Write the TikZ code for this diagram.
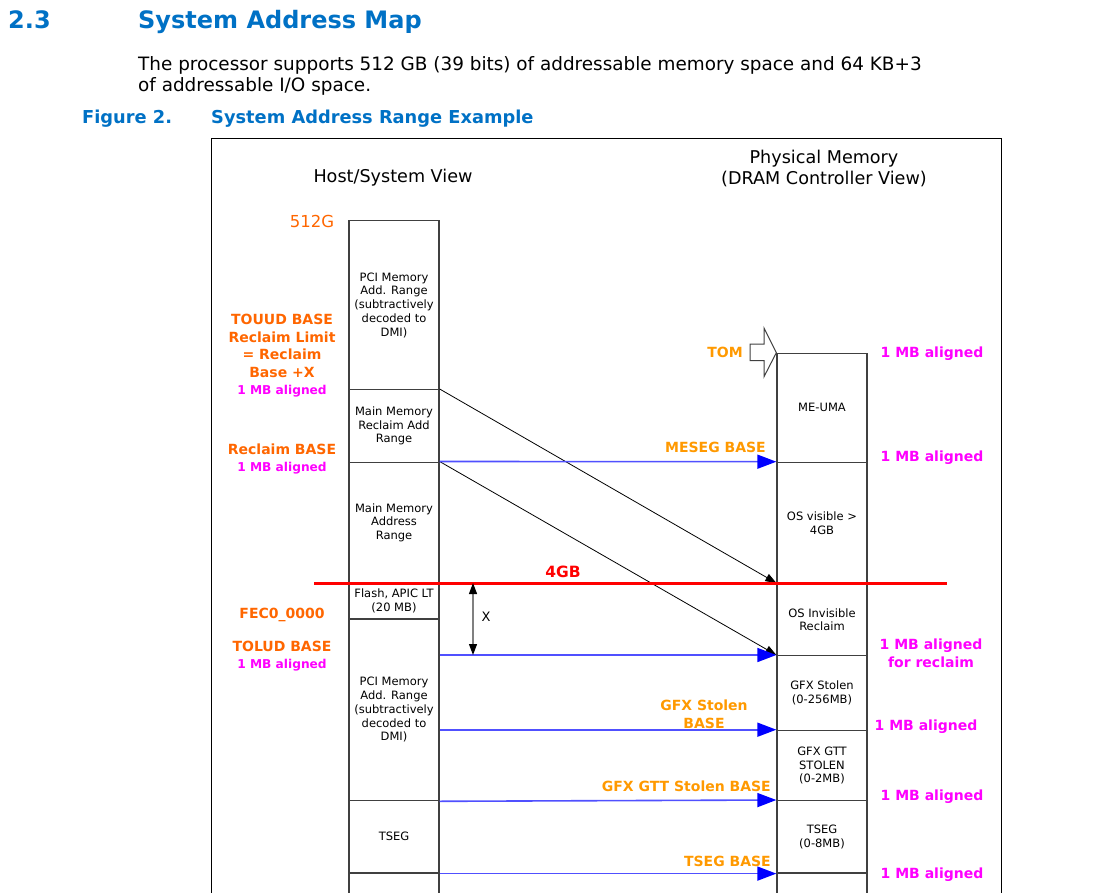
\documentclass[tikz,border=0pt]{standalone}
\usepackage{fontspec}
\setmainfont{DejaVu Sans}
\usetikzlibrary{arrows.meta}
\definecolor{intelblue}{RGB}{0,113,197}
\definecolor{lblorange}{RGB}{255,102,0}
\definecolor{arrorange}{RGB}{255,153,0}
\definecolor{aligncol}{RGB}{255,0,255}
\definecolor{boxline}{RGB}{64,64,64}
\definecolor{baselink}{RGB}{80,80,255}
\begin{document}
\begin{tikzpicture}[x=1pt, y=-1pt,
    seg/.style={draw=boxline, line width=1.3pt, minimum width=90pt, inner sep=0pt,
        anchor=north, align=center, font=\fontsize{11.5}{13.7}\selectfont},
    lbl/.style={align=center, inner sep=0pt, font=\bfseries\fontsize{14}{17.5}\selectfont},
    mapto/.style={black, line width=0.8pt, -{Triangle[length=11pt, width=8pt]}},
    basearr/.style={baselink, line width=1.6pt, -{Triangle[length=19pt, width=14pt, blue]}},
    head/.style={anchor=base west, inner sep=0pt, text=intelblue}]
    \useasboundingbox (0,0) rectangle (1113,893);
    \clip (0,0) rectangle (1113,893);
    
    % Section heading and caption
    \node[head, font=\bfseries\fontsize{24}{28}\selectfont] (secnum) at (8,29) {2.3};
    \node[head, font=\bfseries\fontsize{24}{28}\selectfont] (sectitle) at (138,29) {System Address Map};
    \node[anchor=base west, inner sep=0pt, font=\fontsize{18.4}{22}\selectfont] (intro1) at (138,71)
        {The processor supports 512 GB (39 bits) of addressable memory space and 64 KB+3};
    \node[anchor=base west, inner sep=0pt, font=\fontsize{18.4}{22}\selectfont] (intro2) at (138,92)
        {of addressable I/O space.};
    \node[head, font=\bfseries\fontsize{17.8}{20}\selectfont] (fignum) at (82,124) {Figure 2.};
    \node[head, font=\bfseries\fontsize{17.8}{20}\selectfont] (figtitle) at (211,124) {System Address Range Example};
    
    % Figure frame
    \draw[line width=1pt] (211,900) -- (211,139) -- (1001,139) -- (1001,900);
    
    % Column titles
    \node[font=\fontsize{17.6}{21}\selectfont] (hostview) at (393,178) {Host/System View};
    \node[font=\fontsize{17.6}{21}\selectfont, align=center] (dramview) at (824,168)
        {Physical Memory\\(DRAM Controller View)};
    \node[text=lblorange, font=\fontsize{16.5}{20}\selectfont] (top512) at (312,221) {512G};
    
    % Host/System view column
    \node[seg, minimum height=169pt] (pcihi) at (394,220)
        {PCI Memory\\Add. Range\\(subtractively\\decoded to\\DMI)};
    \node[seg, minimum height=72.5pt] (reclaim) at (394,389) {Main Memory\\Reclaim Add\\Range};
    \node[seg, minimum height=121pt] (mainmem) at (394,461.5) {Main Memory\\Address\\Range};
    \node[seg, minimum height=35.8pt] (flash) at (394,582.5) {Flash, APIC LT\\(20 MB)};
    \node[seg, minimum height=181.7pt] (pcilo) at (394,618.3)
        {PCI Memory\\Add. Range\\(subtractively\\decoded to\\DMI)};
    \node[seg, minimum height=72.3pt] (tseg) at (394,800) {TSEG};
    \node[seg, minimum height=60pt] (lowhost) at (394,872.3) {};
    
    % Physical memory column
    \node[seg, minimum height=109pt] (meuma) at (822,352.7) {ME-UMA};
    \node[seg, minimum height=121.3pt] (osvis) at (822,461.7) {OS visible >\\4GB};
    \node[seg, minimum height=72pt] (osinv) at (822,583) {OS Invisible\\Reclaim};
    \node[seg, minimum height=74.7pt] (gfx) at (822,655) {GFX Stolen\\(0-256MB)};
    \node[seg, minimum height=70.3pt] (gtt) at (822,729.7) {GFX GTT\\STOLEN\\(0-2MB)};
    \node[seg, minimum height=72.3pt] (tsegr) at (822,800) {TSEG\\(0-8MB)};
    \node[seg, minimum height=60pt] (lowdram) at (822,872.3) {};
    
    % TOM marker
    \draw[boxline, line width=1pt, fill=white] (750,344) -- (764,344) -- (764,328) -- (meuma.north west)
        -- (764,376.7) -- (764,360.7) -- (750,360.7) -- cycle;
    \node[lbl, text=arrorange] (tom) at (725,352) {TOM};
    
    % Reclaim remapping
    \draw[mapto] (reclaim.north east) -- (osinv.north west);
    \draw[mapto] (mainmem.north east) -- (gfx.north west);
    
    % Base registers
    \draw[basearr] (mainmem.north east) -- (osvis.north west);
    \draw[basearr] (pcilo.east |- gfx.north) -- (gfx.north west);
    \draw[basearr] (pcilo.east |- gtt.north) -- (gtt.north west);
    \draw[basearr] (pcilo.south east) -- (tsegr.north west);
    \draw[basearr] (tseg.south east) -- (tsegr.south west);
    
    % 4GB boundary
    \draw[red, line width=3pt] (314,583) -- (947,583);
    \node[lbl, text=red, font=\bfseries\fontsize{15.5}{18}\selectfont] (fourgb) at (563,572) {4GB};
    
    % Size X
    \coordinate (xtop) at (473,583);
    \coordinate (xbot) at (473,655);
    \draw[gray, line width=1.2pt, {Triangle[length=11pt, width=8pt, black]}-{Triangle[length=11pt, width=8pt, black]}]
        (xtop) -- (xbot);
    \node[font=\fontsize{13}{15}\selectfont] (xsize) at (486,617) {X};
    
    % Host side labels
    \node[lbl, text=lblorange] (touud) at (282,356)
        {TOUUD BASE\\Reclaim Limit\\= Reclaim\\Base +X\\\textcolor{aligncol}{\fontsize{12.2}{17.5}\selectfont 1 MB aligned}};
    \node[lbl, text=lblorange] (reclaimbase) at (282,459)
        {Reclaim BASE\\\textcolor{aligncol}{\fontsize{12.2}{17.5}\selectfont 1 MB aligned}};
    \node[lbl, text=lblorange] (fec) at (282,615) {FEC0\_0000};
    \node[lbl, text=lblorange] (tolud) at (282,656)
        {TOLUD BASE\\\textcolor{aligncol}{\fontsize{12.2}{17.5}\selectfont 1 MB aligned}};
    
    % DRAM side labels
    \node[lbl, text=arrorange, anchor=east] (meseg) at (766,447) {MESEG BASE};
    \node[lbl, text=arrorange] (gfxbase) at (704,714.5) {GFX Stolen\\BASE};
    \node[lbl, text=arrorange, anchor=east] (gttbase) at (771,786) {GFX GTT Stolen BASE};
    \node[lbl, text=arrorange, anchor=east] (tsegbase) at (771,861) {TSEG BASE};
    
    % Alignment notes
    \node[lbl, text=aligncol] (al1) at (932,354) {1 MB aligned};
    \node[lbl, text=aligncol] (al2) at (932,458) {1 MB aligned};
    \node[lbl, text=aligncol] (al3) at (931,653.5) {1 MB aligned\\for reclaim};
    \node[lbl, text=aligncol] (al4) at (926,727) {1 MB aligned};
    \node[lbl, text=aligncol] (al5) at (932,797) {1 MB aligned};
    \node[lbl, text=aligncol] (al6) at (932,875) {1 MB aligned};
\end{tikzpicture}
\end{document}
